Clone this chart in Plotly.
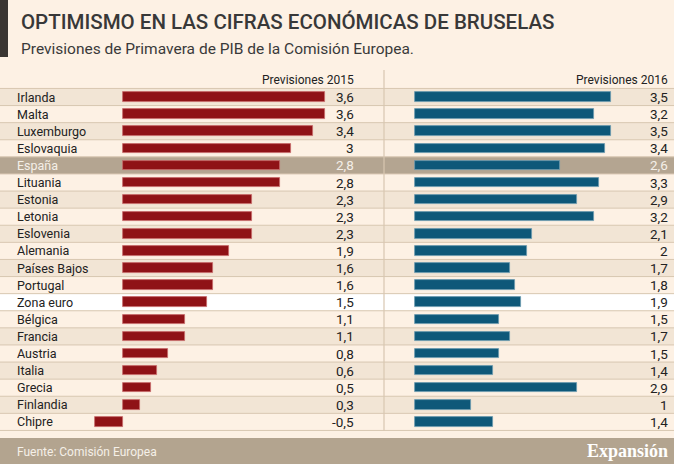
import plotly.graph_objects as go

W, H = 674, 464

countries = [
    "Irlanda", "Malta", "Luxemburgo", "Eslovaquia", "España", "Lituania",
    "Estonia", "Letonia", "Eslovenia", "Alemania", "Países Bajos", "Portugal",
    "Zona euro", "Bélgica", "Francia", "Austria", "Italia", "Grecia",
    "Finlandia", "Chipre",
]
pib_2015 = [3.6, 3.6, 3.4, 3.0, 2.8, 2.8, 2.3, 2.3, 2.3, 1.9, 1.6, 1.6,
            1.5, 1.1, 1.1, 0.8, 0.6, 0.5, 0.3, -0.5]
pib_2016 = [3.5, 3.2, 3.5, 3.4, 2.6, 3.3, 2.9, 3.2, 2.1, 2.0, 1.7, 1.8,
            1.9, 1.5, 1.7, 1.5, 1.4, 2.9, 1.0, 1.4]

RED = "#8f1216"
BLUE = "#0e5879"
CREAM = "#fdf1e4"
STRIPE = "#f2e5d5"
SPAIN_BG = "#b4a591"
LINE = "#d8c7b1"
TEXT = "#222222"
FONT = "Roboto, Liberation Sans, sans-serif"

PX_PER_UNIT = 56.0
ZERO_L = 123.0
ZERO_R = 414.5
ROW0_Y = 97.0
ROW_H = 17.1


def fmt(v):
    return f"{v:g}".replace(".", ",")


def px(x):
    return x / W


fig = go.Figure()

fig.add_trace(go.Bar(
    x=pib_2015, y=countries, orientation="h", xaxis="x", yaxis="y",
    marker=dict(color=RED, line=dict(color="#c76a6a", width=0.8)),
    width=0.56, hoverinfo="x+y", showlegend=False,
))
fig.add_trace(go.Bar(
    x=pib_2016, y=countries, orientation="h", xaxis="x2", yaxis="y",
    marker=dict(color=BLUE, line=dict(color="#6c9bb0", width=0.8)),
    width=0.56, hoverinfo="x+y", showlegend=False,
))

shapes = []
annotations = []
n = len(countries)
for i, name in enumerate(countries):
    if name == "España":
        bg = SPAIN_BG
    elif name == "Zona euro":
        bg = "#ffffff"
    else:
        bg = STRIPE if i % 2 == 0 else CREAM
    shapes.append(dict(type="rect", xref="paper", yref="y", layer="below",
                       x0=0, x1=1, y0=i - 0.5, y1=i + 0.5,
                       fillcolor=bg, line=dict(width=0)))
    col = "#f4efe8" if name == "España" else TEXT
    annotations.append(dict(xref="paper", yref="y", x=px(15), y=name,
                            text=name, showarrow=False, xanchor="left",
                            font=dict(family=FONT, size=12.5, color=col)))
    annotations.append(dict(xref="paper", yref="y", x=px(356), y=name,
                            text=fmt(pib_2015[i]), showarrow=False,
                            xanchor="right",
                            font=dict(family=FONT, size=13.5, color=col)))
    annotations.append(dict(xref="paper", yref="y", x=px(670), y=name,
                            text=fmt(pib_2016[i]), showarrow=False,
                            xanchor="right",
                            font=dict(family=FONT, size=13.5, color=col)))

# row separators
for k in range(n + 1):
    shapes.append(dict(type="line", xref="paper", yref="y", layer="below",
                       x0=0, x1=1, y0=k - 0.5, y1=k - 0.5,
                       line=dict(color=LINE, width=1)))

# vertical divider
shapes.append(dict(type="line", xref="paper", yref="paper", layer="above",
                   x0=px(384), x1=px(384), y0=1 - 70 / H, y1=1 - 431 / H,
                   line=dict(color=LINE, width=1.2)))

# dark accent bar at top left
shapes.append(dict(type="rect", xref="paper", yref="paper",
                   x0=0, x1=px(8), y0=1 - 57 / H, y1=1,
                   fillcolor="#3a3632", line=dict(width=0)))

# footer band
shapes.append(dict(type="rect", xref="paper", yref="paper",
                   x0=0, x1=1, y0=0, y1=1 - 438 / H,
                   fillcolor="#b3a48f", line=dict(width=0)))

annotations += [
    dict(xref="paper", yref="paper", x=px(19), y=1 - 22 / H,
         text="OPTIMISMO EN LAS CIFRAS ECONÓMICAS DE BRUSELAS",
         showarrow=False, xanchor="left", yanchor="middle",
         font=dict(family=FONT, size=20.5, color="#383838", weight=500)),
    dict(xref="paper", yref="paper", x=px(19), y=1 - 49 / H,
         text="Previsiones de Primavera de PIB de la Comisión Europea.",
         showarrow=False, xanchor="left", yanchor="middle",
         font=dict(family=FONT, size=15.5, color="#3a3a3a")),
    dict(xref="paper", yref="paper", x=px(356), y=1 - 80 / H,
         text="Previsiones 2015", showarrow=False, xanchor="right",
         yanchor="middle", font=dict(family=FONT, size=12, color=TEXT)),
    dict(xref="paper", yref="paper", x=px(670), y=1 - 80 / H,
         text="Previsiones 2016", showarrow=False, xanchor="right",
         yanchor="middle", font=dict(family=FONT, size=12, color=TEXT)),
    dict(xref="paper", yref="paper", x=px(15), y=1 - 452 / H,
         text="Fuente: Comisión Europea", showarrow=False, xanchor="left",
         yanchor="middle", font=dict(family=FONT, size=12, color="#f5f0e8")),
    dict(xref="paper", yref="paper", x=px(670), y=1 - 451 / H,
         text="Expansión", showarrow=False, xanchor="right",
         yanchor="middle",
         font=dict(family="Liberation Serif, DejaVu Serif, serif", size=18,
                   color="#ffffff", weight="bold")),
]

y_top = (0 - ROW0_Y) / ROW_H
y_bot = (H - ROW0_Y) / ROW_H

fig.update_layout(
    width=W, height=H,
    margin=dict(l=0, r=0, t=0, b=0),
    paper_bgcolor=CREAM, plot_bgcolor="rgba(0,0,0,0)",
    barmode="overlay", bargap=0,
    xaxis=dict(domain=[0, 1], range=[-ZERO_L / PX_PER_UNIT, (W - ZERO_L) / PX_PER_UNIT],
               visible=False, fixedrange=True),
    xaxis2=dict(domain=[0, 1], overlaying="x",
                range=[-ZERO_R / PX_PER_UNIT, (W - ZERO_R) / PX_PER_UNIT],
                visible=False, fixedrange=True),
    yaxis=dict(domain=[0, 1], type="category", categoryorder="array",
               categoryarray=countries, range=[y_bot, y_top],
               visible=False, fixedrange=True),
    shapes=shapes,
    annotations=annotations,
    font=dict(family=FONT, color=TEXT),
)

fig.write_html(
    "out.html",
    config={"displayModeBar": False},
    post_script="document.body.style.margin='0';document.body.style.overflow='hidden';",
)
